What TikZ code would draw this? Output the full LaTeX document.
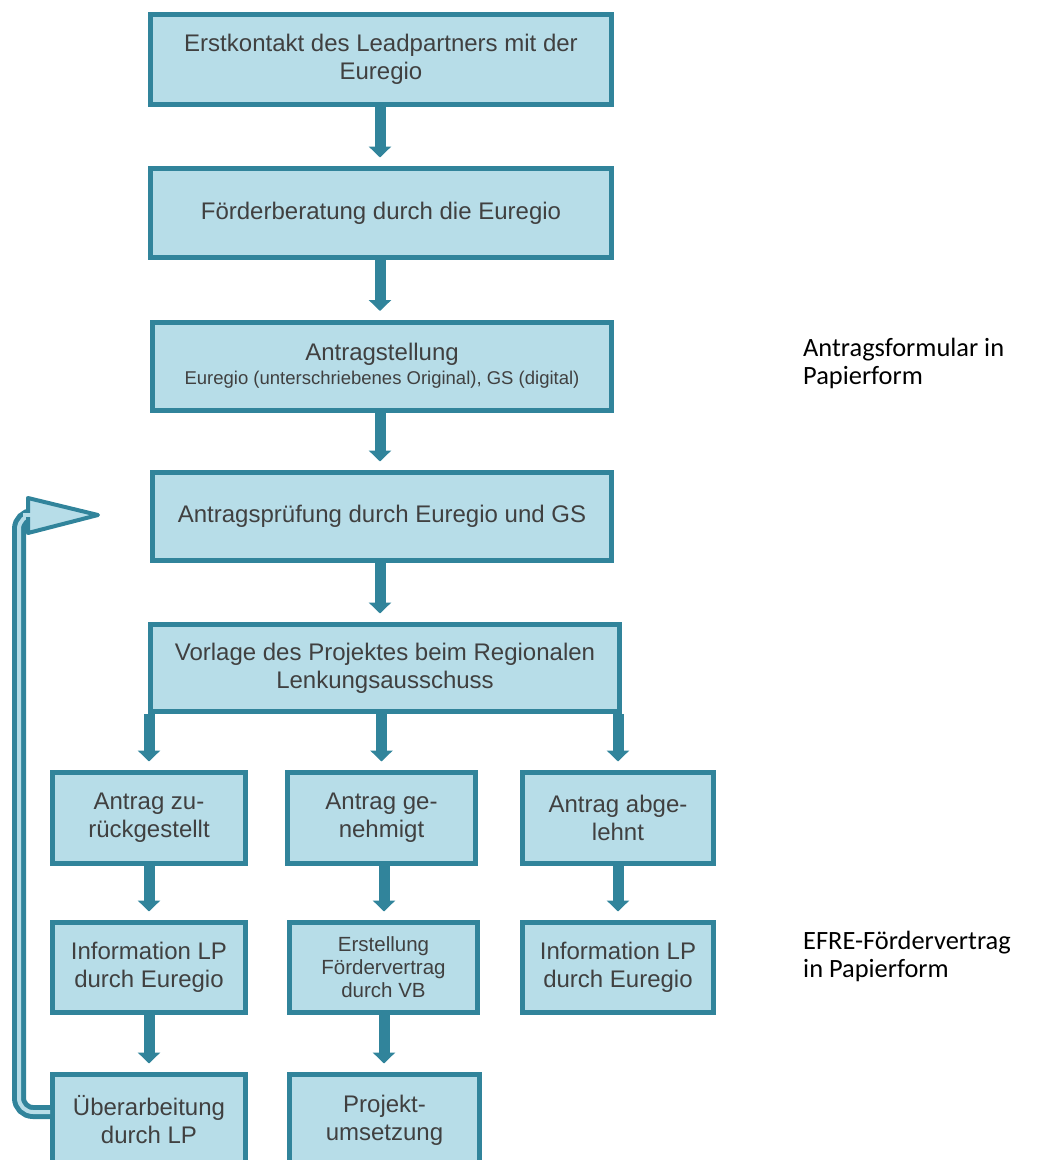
\documentclass[tikz,border=0pt]{standalone}
\usepackage{fontspec}
\setmainfont{Liberation Sans}
\newfontfamily\notefont{Carlito}
\usetikzlibrary{arrows.meta,positioning}
\definecolor{boxline}{HTML}{31849B}
\definecolor{boxfill}{HTML}{B7DDE8}
\definecolor{boxtext}{HTML}{404040}
\tikzset{
	stepbox/.style = {draw = boxline, fill = boxfill, line width = 5pt, inner sep = 0pt,
		align = center, text = boxtext, font = \fontsize{24}{28}\selectfont},
	flow/.style = {-{Triangle[width = 22pt, length = 11pt]}, line width = 11pt,
		draw = boxline, shorten > = 8.5pt},
	loopback/.style = {draw = boxline, line width = 5pt, double = boxfill,
		double distance = 4pt, rounded corners = 14pt},
	backhead/.style = {draw = boxline, fill = boxfill, line width = 4pt, line join = round},
	note/.style = {anchor = base west, align = left, inner sep = 0pt,
		font = \notefont\fontsize{26.4}{28}\selectfont}
}

\begin{document}
\begin{tikzpicture}[x = 1pt, y = -1pt]
	\useasboundingbox (0, 0) rectangle (1045, 1160);
	\clip (0, 0) rectangle (1045, 1160);

	% main column
	\node [stepbox, minimum width = 461, minimum height = 90] (kontakt) at (381, 59.5)
		{Erstkontakt des Leadpartners mit der\\Euregio};
	\node [stepbox, minimum width = 461, minimum height = 89] (beratung) at (381, 213)
		{Förderberatung durch die Euregio};
	\node [stepbox, minimum width = 459, minimum height = 88] (stellung) at (382, 366)
		{Antragstellung\\[-4pt]{\fontsize{18.5}{22}\selectfont Euregio (unterschriebenes Original), GS (digital)}};
	\node [stepbox, minimum width = 459, minimum height = 88] (pruefung) at (382, 516.5)
		{Antragsprüfung durch Euregio und GS};
	\node [stepbox, minimum width = 469, minimum height = 87] (vorlage) at (385, 668)
		{Vorlage des Projektes beim Regionalen\\Lenkungsausschuss};

	% decisions
	\node [stepbox, minimum width = 193, minimum height = 91] (zurueck) at (149, 818)
		{Antrag zu-\\rückgestellt};
	\node [stepbox, minimum width = 188, minimum height = 91] (genehmigt) at (381.5, 818)
		{Antrag ge-\\nehmigt};
	\node [stepbox, minimum width = 191, minimum height = 91] (abgelehnt) at (618, 818)
		{Antrag abge-\\lehnt};

	% follow-up
	\node [stepbox, minimum width = 193, minimum height = 90] (infoA) at (149, 967.5)
		{Information LP\\durch Euregio};
	\node [stepbox, minimum width = 188, minimum height = 90, font = \fontsize{20.5}{23}\selectfont]
		(vertrag) at (383.5, 967.5) {Erstellung\\Fördervertrag\\durch VB};
	\node [stepbox, minimum width = 191, minimum height = 90] (infoB) at (618, 967.5)
		{Information LP\\durch Euregio};

	\node [stepbox, minimum width = 193, minimum height = 91] (ueberarb) at (149, 1120)
		{Überarbeitung\\durch LP};
	\node [stepbox, minimum width = 190, minimum height = 91] (umsetzung) at (384.5, 1120)
		{Projekt-\\umsetzung};

	% notes
	\node [note] (formular) at (803, 384) {Antragsformular in\\Papierform};
	\node [note] (efre) at (803, 977) {EFRE-Fördervertrag\\in Papierform};

	% arrows
	\foreach \from/\to in {kontakt/beratung, beratung/stellung, stellung/pruefung, pruefung/vorlage}{
		\draw [flow] (\from.south -| 380, 0) -- (\to.north -| 380, 0);
	}
	\foreach \to in {zurueck, genehmigt, abgelehnt}{
		\draw [flow] (vorlage.south -| \to) -- (\to);
	}
	\draw [flow] (zurueck) -- (infoA);
	\draw [flow] (genehmigt.south -| 384, 0) -- (vertrag.north -| 384, 0);
	\draw [flow] (abgelehnt) -- (infoB);
	\draw [flow] (infoA) -- (ueberarb);
	\draw [flow] (vertrag.south -| 384, 0) -- (umsetzung.north -| 384, 0);

	% back to the review
	\coordinate (backtip) at (98, 515);
	\draw [loopback] ([yshift = 8pt] ueberarb.west) -| ([xshift = -79pt] backtip) -- ([xshift = -64pt] backtip);
	\draw [backhead] (backtip) -- ++(-70, -17) -- ++(0, 35) -- cycle;
	\draw [boxfill, line width = 4pt] ([xshift = -75pt] backtip) -- ([xshift = -62pt] backtip);
\end{tikzpicture}
\end{document}
